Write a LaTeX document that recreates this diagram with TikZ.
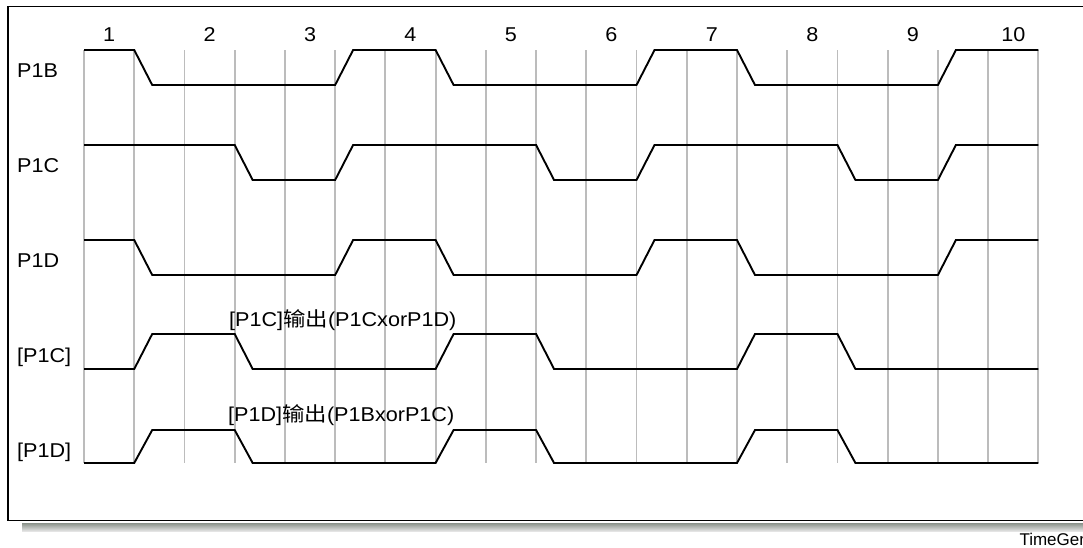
\documentclass[tikz,border=0pt]{standalone}
\usepackage{fontspec}
\newfontfamily\lab{Liberation Sans}[FakeStretch=1.08]
\newfontfamily\cjk{Noto Sans CJK SC}[FakeStretch=1.12]
\newfontfamily\tgfont{Liberation Sans}
\definecolor{gridc}{RGB}{188,188,188}
\definecolor{shtop}{RGB}{138,146,138}
\definecolor{shbot}{RGB}{228,228,228}
\begin{document}
\begin{tikzpicture}[x=1pt,y=-1pt,
  gridline/.style={draw=gridc, line width=1.8pt},
  sig/.style={draw=black, line width=1.9pt},
  frameline/.style={draw=black, line width=1.8pt},
  lbl/.style={inner sep=0pt, anchor=base west, font=\lab\fontsize{20}{24}\selectfont},
  numlbl/.style={inner sep=0pt, anchor=base, font=\lab\fontsize{20}{24}\selectfont},
  tglbl/.style={inner sep=0pt, anchor=base west, font=\tgfont\fontsize{17}{20}\selectfont}]
\useasboundingbox (0,0) rectangle (1083,547);
\fill[white] (0,0) rectangle (1083,547);
% shadow and frame
\shade[top color=shtop, bottom color=shbot] (22,523) rectangle (1083,531);
\draw[frameline] (8.3,6.5) rectangle (1100,520.5);
% grid and signals
\begin{scope}[xshift=84pt, x=50.23pt]
  \foreach \k in {0,...,19} \draw[gridline] (\k,50) -- (\k,463);
  % P1B
  \draw[sig] (0,50)--(1,50)--(1.358,85)--(5,85)--(5.358,50)--(7,50)--(7.358,85)--(11,85)--(11.358,50)--(13,50)--(13.358,85)--(17,85)--(17.358,50)--(19,50);
  % P1C
  \draw[sig] (0,145)--(3,145)--(3.358,180)--(5,180)--(5.358,145)--(9,145)--(9.358,180)--(11,180)--(11.358,145)--(15,145)--(15.358,180)--(17,180)--(17.358,145)--(19,145);
  % P1D
  \draw[sig] (0,240)--(1,240)--(1.358,275)--(5,275)--(5.358,240)--(7,240)--(7.358,275)--(11,275)--(11.358,240)--(13,240)--(13.358,275)--(17,275)--(17.358,240)--(19,240);
  % [P1C]
  \draw[sig] (0,369)--(1,369)--(1.358,334)--(3,334)--(3.358,369)--(7,369)--(7.358,334)--(9,334)--(9.358,369)--(13,369)--(13.358,334)--(15,334)--(15.358,369)--(19,369);
  % [P1D]
  \draw[sig] (0,463)--(1,463)--(1.358,430)--(3,430)--(3.358,463)--(7,463)--(7.358,430)--(9,430)--(9.358,463)--(13,463)--(13.358,430)--(15,430)--(15.358,463)--(19,463);
  % clock numbers
  \foreach \k in {1,...,10} \node[numlbl] (n\k) at ({2*\k-1.5},41.5) {\k};
\end{scope}
% row labels
\node[lbl] (rP1B) at (17,77) {P1B};
\node[lbl] (rP1C) at (17,172) {P1C};
\node[lbl] (rP1D) at (17,267) {P1D};
\node[lbl] (rOC) at (17,362) {[P1C]};
\node[lbl] (rOD) at (17,457) {[P1D]};
% annotations
\node[lbl] (aC) at (229,326) {[P1C]{\cjk 输出}(P1CxorP1D)};
\node[lbl] (aD) at (228,421) {[P1D]{\cjk 输出}(P1BxorP1C)};
\node[tglbl] (tg) at (1019.3,545.5) {TimeGen};
\end{tikzpicture}
\end{document}
